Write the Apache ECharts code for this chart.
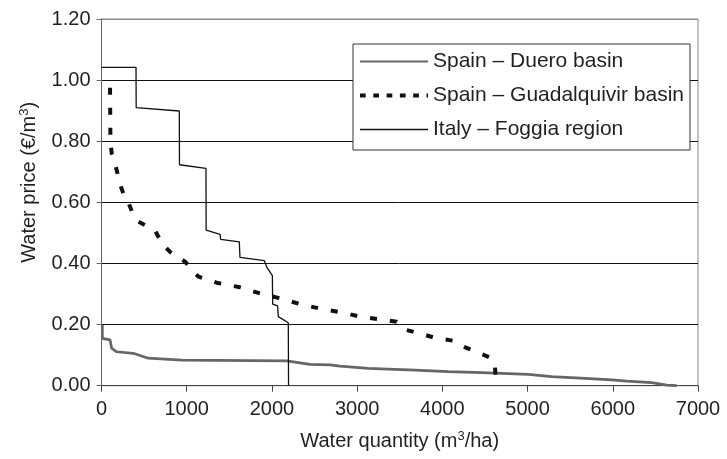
<!DOCTYPE html>
<html>
<head>
<meta charset="utf-8">
<script src="https://cdn.jsdelivr.net/npm/echarts@6/dist/echarts.min.js"></script>
<style>
html,body{margin:0;padding:0;background:#fff;}
#c{width:727px;height:459px;}
</style>
</head>
<body>
<div id="c"></div>
<script>
var seriesNames = ['Spain \u2013 Duero basin', 'Spain \u2013 Guadalquivir basin', 'Italy \u2013 Foggia region'];

var dueroX = [10, 10, 100, 120, 178, 373, 549, 941, 2173, 2447, 2682, 2799, 3131, 3679, 4070, 4462, 5009, 5283, 5674, 5988, 6163, 6457, 6633, 6750];
var dueroY = [0.199, 0.155, 0.150, 0.122, 0.111, 0.106, 0.090, 0.084, 0.081, 0.070, 0.068, 0.064, 0.057, 0.051, 0.046, 0.043, 0.037, 0.030, 0.024, 0.019, 0.015, 0.010, 0.002, 0];

var guadX = [100, 105, 120, 178, 217, 276, 315, 373, 432, 628, 706, 804, 980, 1136, 1352, 1625, 1860, 2095, 2330, 2584, 2838, 3034, 3268, 3465, 3582, 3738, 3894, 4129, 4246, 4442, 4579, 4618, 4630];
var guadY = [0.975, 0.80, 0.76, 0.706, 0.66, 0.613, 0.60, 0.559, 0.537, 0.509, 0.466, 0.438, 0.406, 0.357, 0.337, 0.322, 0.302, 0.286, 0.267, 0.251, 0.239, 0.226, 0.217, 0.209, 0.182, 0.171, 0.158, 0.147, 0.128, 0.106, 0.090, 0.062, 0];

var foggiaX = [0, 405, 407, 913, 915, 1226, 1228, 1391, 1399, 1617, 1625, 1911, 1938, 2005, 2009, 2067, 2075, 2192, 2195];
var foggiaY = [1.042, 1.042, 0.910, 0.899, 0.723, 0.711, 0.509, 0.495, 0.479, 0.471, 0.420, 0.409, 0.389, 0.360, 0.267, 0.261, 0.226, 0.206, 0];

var xTicks = {min: 0, max: 7000, interval: 1000};
var yTicks = {min: 0, max: 1.2, interval: 0.2};

function pairs(xs, ys) { return xs.map(function (x, i) { return [x, ys[i]]; }); }

var FONT = '"Liberation Sans", Arial, Helvetica, sans-serif';
var TXT = '#231f20';
var hidden = {color: 'rgba(0,0,0,0)', borderColor: 'rgba(0,0,0,0)', borderWidth: 0};
var supStyle = {fontSize: 13, lineHeight: 12, verticalAlign: 'top', color: TXT, fontFamily: FONT};
var normStyle = {fontSize: 20, lineHeight: 22, verticalAlign: 'bottom', color: TXT, fontFamily: FONT};

var chart = echarts.init(document.getElementById('c'), null, {renderer: 'canvas'});
chart.setOption({
  animation: false,
  backgroundColor: '#fff',
  textStyle: {fontFamily: FONT, color: TXT},
  grid: {left: 101.5, right: 29, top: 19, bottom: 73.3, show: true, borderColor: '#8a8a8a', borderWidth: 1, backgroundColor: 'transparent'},
  legend: {
    orient: 'vertical',
    left: 353, top: 44,
    padding: [7, 6, 10, 5],
    itemWidth: 68, itemHeight: 14, itemGap: 13,
    backgroundColor: '#fff',
    borderColor: '#333', borderWidth: 1,
    textStyle: {fontSize: 21, lineHeight: 20, color: TXT, fontFamily: FONT},
    data: [
      {name: seriesNames[0], itemStyle: hidden, lineStyle: {color: '#666', width: 2, type: 'solid'}},
      {name: seriesNames[1], itemStyle: hidden, lineStyle: {color: '#111', width: 4, type: [5.7, 7.6]}},
      {name: seriesNames[2], itemStyle: hidden, lineStyle: {color: '#111', width: 1.3, type: 'solid'}}
    ]
  },
  xAxis: {
    type: 'value', min: xTicks.min, max: xTicks.max, interval: xTicks.interval,
    name: '{n|Water quantity (m}{sup|3}{n|/ha)}', nameLocation: 'middle', nameGap: 44,
    nameTextStyle: {fontSize: 20, color: TXT, fontFamily: FONT,
      rich: {sup: supStyle, n: normStyle}},
    axisLine: {lineStyle: {color: '#444', width: 1}},
    axisTick: {show: true, inside: false, length: 6, lineStyle: {color: '#444'}},
    axisLabel: {fontSize: 20, margin: 14, color: TXT, fontFamily: FONT,
      formatter: function (v) { return String(v); }},
    splitLine: {show: false}
  },
  yAxis: {
    type: 'value', min: yTicks.min, max: yTicks.max, interval: yTicks.interval,
    name: '{n|Water price (\u20ac/m}{sup|3}{n|)}', nameLocation: 'middle', nameRotate: 90, nameGap: 62,
    nameTextStyle: {fontSize: 20, color: TXT, fontFamily: FONT, padding: [0, 0, 0, 40],
      rich: {sup: supStyle, n: normStyle}},
    axisLine: {show: true, lineStyle: {color: '#666', width: 1}},
    axisTick: {show: true, inside: false, length: 5, lineStyle: {color: '#666'}},
    axisLabel: {fontSize: 20, margin: 11, color: TXT, fontFamily: FONT,
      formatter: function (v) { return v.toFixed(2); }},
    splitLine: {show: true, lineStyle: {color: ['#444', '#111', '#111', '#111', '#111', '#111', '#8a8a8a'], width: 1}}
  },
  series: [
    {name: seriesNames[0], type: 'line', data: pairs(dueroX, dueroY), symbol: 'none', z: 3,
      lineStyle: {color: '#666', width: 2.7}, itemStyle: {color: '#666'}},
    {name: seriesNames[1], type: 'line', data: pairs(guadX, guadY), symbol: 'none', z: 4,
      lineStyle: {color: '#111', width: 4, type: [7, 13]}, itemStyle: {color: '#111'}},
    {name: seriesNames[2], type: 'line', data: pairs(foggiaX, foggiaY), symbol: 'none', z: 5,
      lineStyle: {color: '#111', width: 1.3}, itemStyle: {color: '#111'}}
  ]
});
</script>
</body>
</html>
